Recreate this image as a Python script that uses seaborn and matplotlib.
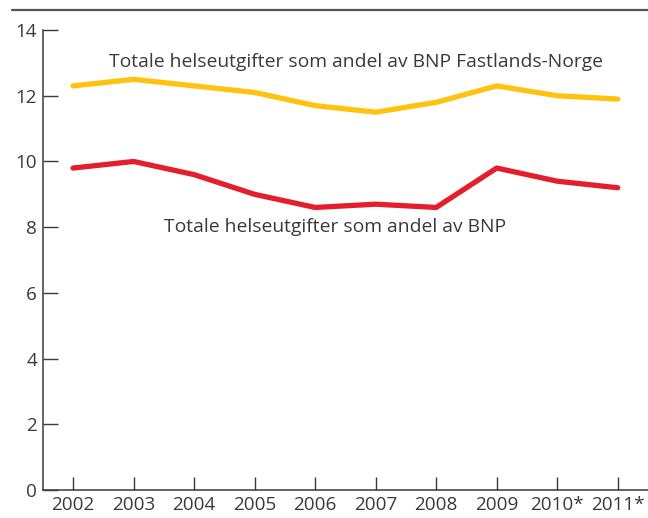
import matplotlib
matplotlib.use("Agg")
import matplotlib.pyplot as plt
from matplotlib import font_manager
from matplotlib.lines import Line2D
import pandas as pd
import seaborn as sns

# Data
years = ['2002', '2003', '2004', '2005', '2006', '2007', '2008', '2009', '2010*', '2011*']
fastland = [12.3, 12.5, 12.3, 12.1, 11.7, 11.5, 11.8, 12.3, 12.0, 11.9]
bnp = [9.8, 10.0, 9.6, 9.0, 8.6, 8.7, 8.6, 9.8, 9.4, 9.2]
y_ticks = [0, 2, 4, 6, 8, 10, 12, 14]

label_fastland = 'Totale helseutgifter som andel av BNP Fastlands-Norge'
label_bnp = 'Totale helseutgifter som andel av BNP'

sns.set_style("ticks")
plt.rcParams['font.family'] = ['Open Sans', 'DejaVu Sans']

names = {f.name for f in font_manager.fontManager.ttflist}
narrow = 'Liberation Sans Narrow' if 'Liberation Sans Narrow' in names else 'Open Sans'
label_size = 14.5 if narrow != 'Open Sans' else 13.9

text_col = '#3a3a3a'
df = pd.DataFrame({'pos': range(len(years)), 'fastland': fastland, 'bnp': bnp})

fig = plt.figure(figsize=(6.48, 5.18), dpi=100)
ax = fig.add_axes([0.066, 0.054, 0.934, 0.888])

sns.lineplot(data=df, x='pos', y='fastland', ax=ax, color='#ffc20e', linewidth=3.8,
             solid_capstyle='round', solid_joinstyle='round')
sns.lineplot(data=df, x='pos', y='bnp', ax=ax, color='#e41f2b', linewidth=3.8,
             solid_capstyle='round', solid_joinstyle='round')

ax.set_xlim(-0.5, 9.5)
ax.set_ylim(0, 14)
ax.set_xticks(range(len(years)))
ax.set_xticklabels(years)
ax.set_yticks(y_ticks)
ax.set_xlabel('')
ax.set_ylabel('')

ax.tick_params(axis='y', direction='in', length=11, width=1, colors=text_col,
               labelsize=13.6, pad=4)
ax.tick_params(axis='x', direction='in', length=9.5, width=1, colors=text_col,
               labelsize=13.6, pad=4)
for side in ['top', 'right']:
    ax.spines[side].set_visible(False)
for side in ['left', 'bottom']:
    ax.spines[side].set_color(text_col)
    ax.spines[side].set_linewidth(1.1)

ax.text(0.6, 13.02, label_fastland, family=narrow, fontsize=label_size, color=text_col,
        ha='left', va='center')
ax.text(1.5, 8.02, label_bnp, family=narrow, fontsize=label_size, color=text_col,
        ha='left', va='center')

# grey rule at the top of the figure
fig.add_artist(Line2D([0.019, 1.0], [0.981, 0.981], color='#555555', linewidth=1.6))

fig.savefig('out.png', dpi=100)
plt.close(fig)
